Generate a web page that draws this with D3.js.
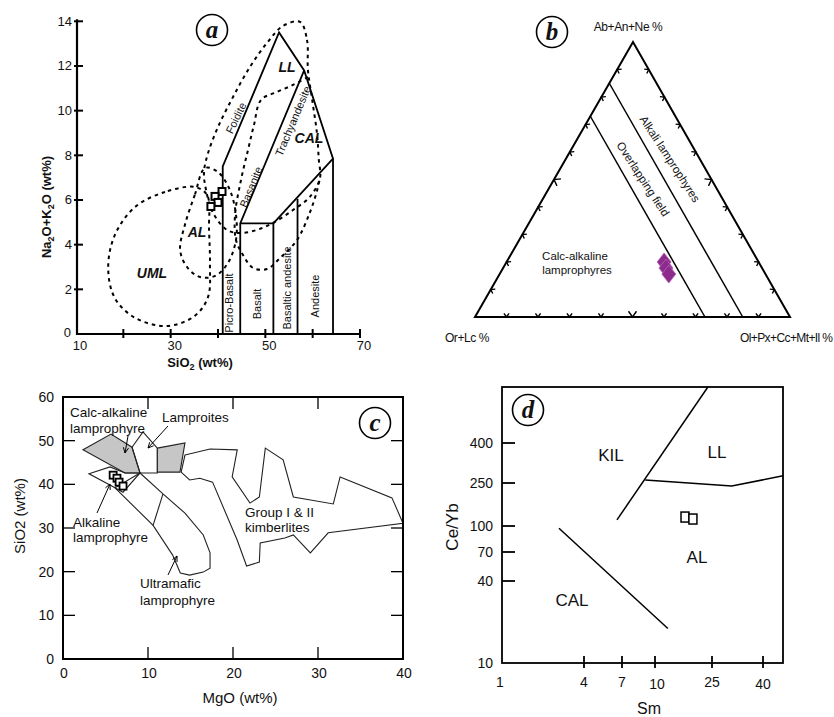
<!DOCTYPE html>
<html><head><meta charset="utf-8">
<script src="https://cdn.jsdelivr.net/npm/d3@7"></script>
<style>
body{margin:0;background:#fff}
svg{display:block}
text{font-family:"Liberation Sans",Arial,sans-serif;fill:#111}
</style></head>
<body><svg id="c" width="834" height="717"></svg>
<script>
// ---------------- DATA ----------------
// Panel a (TAS): SiO2 vs Na2O+K2O
const aXTicks = [10,20,30,40,50,60,70];
const aXLabels = [10,30,50,70];
const aYTicks = [0,2,4,6,8,10,12,14];
const aSolid = [
  [[41,0],[41,7.5],[52.9,13.5],[58.2,11.8],[64.3,7.85],[64.3,0]],
  [[44.7,0],[44.7,4.95],[58.2,11.8]],
  [[44.7,4.95],[51.7,4.95],[51.7,0]],
  [[51.7,4.95],[64.3,7.85]],
  [[56.8,6.05],[56.8,0]]
];
// closed dashed fields
const aUML = [[35.1,6.58],[28.8,6.36],[22.5,5.69],[18.2,4.43],[16.8,2.96],[18.2,1.61],[22.5,0.72],[29.2,0.36],[35.1,0.81],[37.9,1.66],[38.3,3.09],[38.1,4.66],[37.7,6.22]];
const aAL = [[37.26,7.43],[35.1,6.23],[33.0,4.88],[32.0,3.76],[33.45,3.0],[36.2,2.55],[39.4,2.6],[42.1,3.18],[43.8,4.21],[43.8,5.33],[42.5,6.45],[40.0,7.25]];
const aLL = [[57.33,13.97],[58.8,13.17],[59.0,11.82],[59.9,10.48],[60.9,9.0],[61.3,7.79],[61.55,6.99],[59.4,6.14],[55.85,5.55],[51.6,4.97],[48.2,4.66],[44.65,4.52],[41.9,4.66],[38.95,5.42],[37.47,6.45],[37.04,7.25],[37.9,8.1],[40.0,9.27],[43.17,10.61],[46.76,11.96],[50.36,13.03],[53.7,13.79]];
// open dashed field (joins the LL boundary at both ends)
const aCAL = [[59.0,11.5],[55.85,11.15],[52.47,10.84],[49.09,10.48],[47.6,9.36],[46.34,8.24],[44.86,6.9],[43.6,5.33],[43.8,4.21],[45.28,3.54],[47.4,2.96],[50.35,2.91],[53.1,3.4],[56.7,4.21],[59.44,5.46],[60.9,6.4],[61.55,6.99]];
const aSamples = [[40.85,6.38],[39.37,6.16],[40.0,5.89],[38.5,5.71]];

// Panel b (ternary): [A = Ab+An+Ne, B = Or+Lc, C = Ol+Px+Cc+Mt+Il] fractions
const bTickFractions = [0.1,0.2,0.3,0.4,0.5,0.6,0.7,0.8,0.9];
const bLines = [ {B:0.15, name:"Alkali lamprophyres"}, {B:0.27, name:"Overlapping field"} ];
const bSamples = [[0.20,0.30,0.50],[0.178,0.305,0.517],[0.156,0.307,0.537]];

// Panel c: MgO vs SiO2
const cTicks = [0,10,20,30,40];
const cYTicks = [0,10,20,30,40,50,60];
const cCalcAlk = [[2.35,47.9],[5.65,51.5],[8.12,48.5],[9.06,42.6],[7.29,42.6]];
const cLamproiteWhite = [[8.12,48.5],[9.41,52.0],[11.1,48.3],[11.1,42.6],[9.06,42.6]];
const cLamproiteGrey = [[11.1,48.3],[14.35,49.5],[13.76,42.8],[11.1,42.8]];
const cKimberlite = [[14.35,46.7],[17.3,48.1],[20.5,47.9],[19.9,41.7],[22.0,35.7],[23.1,37.1],[23.8,48.3],[25.9,45.6],[27.1,37.1],[31.8,35.5],[32.6,41.7],[38.7,36.9],[40,31.1],[31.2,28.9],[29.1,24.3],[27.1,28.4],[26.1,27.7],[23.2,26.6],[23.1,22.2],[21.6,21.3],[20.5,27.2],[17.6,40.5],[16.1,41.4],[14.9,41.0],[13.9,42.8]];
const cAlkaline = [[3.06,42.4],[5.53,44.0],[7.29,42.6],[9.06,42.6],[7.06,38.2],[6.12,39.2]];
const cUltramafic = [[9.06,42.6],[11.76,37.8],[14.35,33.4],[16.5,28.4],[17.3,24.3],[17.3,20.8],[16.5,19.9],[14.9,19.2],[13.8,19.7],[12.9,23.8],[10.6,30.6],[6.12,39.2]];
const cUltraBranch = [[11.76,37.8],[10.6,30.6]];
const cSamples = [[5.9,42.1],[6.35,41.4],[6.6,40.5],[7.06,39.6]];

// Panel d: Sm vs Ce/Yb (log)
const dXTicks = [1,4,7,10,25,40];
const dYTicks = [10,40,70,100,250,400];
const dKIL = [[6.5,114],[23.4,1000]];
const dLL = [[9,259],[30,234],[55,272]];
const dCAL = [[2.62,97],[12.3,17.9]];
const dSamples = [[16.2,121],[18.4,116]];

// ---------------- DRAW ----------------
const svg = d3.select("#c");
const line = d3.line();

function circLabel(cx, cy, ch){
  svg.append("circle").attr("cx",cx).attr("cy",cy).attr("r",15.5)
    .attr("fill","#fff").attr("stroke","#000").attr("stroke-width",1.6);
  svg.append("text").attr("x",cx).attr("y",cy+8).attr("text-anchor","middle")
    .style("font-family","'Liberation Serif','DejaVu Serif',serif")
    .style("font-style","italic").style("font-weight","bold").style("font-size","25px").text(ch);
}

// ===== Panel a =====
const aX = d3.scaleLinear().domain([10,70]).range([76,360]);
const aY = d3.scaleLinear().domain([0,14]).range([334,21.3]);
const ga = svg.append("g");
ga.append("line").attr("x1",77).attr("x2",77).attr("y1",aY(14)-2).attr("y2",aY(0)+1).attr("stroke","#000").attr("stroke-width",2.2);
ga.append("line").attr("x1",76).attr("x2",aX(70)+1).attr("y1",aY(0)).attr("y2",aY(0)).attr("stroke","#000").attr("stroke-width",2.2);
aYTicks.forEach(v=>{
  if(v>0) ga.append("line").attr("x1",74).attr("x2",83).attr("y1",aY(v)).attr("y2",aY(v)).attr("stroke","#000").attr("stroke-width",2);
  ga.append("text").attr("x",v===0?71:72).attr("y",aY(v)+(v===0?3:4.5)).attr("text-anchor","end").style("font-size","13px").text(v);
});
aXTicks.forEach(v=>{
  if(v>10) ga.append("line").attr("x1",aX(v)).attr("x2",aX(v)).attr("y1",aY(0)-5).attr("y2",aY(0)+4).attr("stroke","#000").attr("stroke-width",2);
});
aXLabels.forEach(v=>{
  ga.append("text").attr("x",aX(v)+4).attr("y",aY(0)+16).attr("text-anchor","middle").style("font-size","13px").text(v);
});
// dashed fields
const dashAttrs = sel => sel.attr("fill","none").attr("stroke","#000").attr("stroke-width",2).attr("stroke-dasharray","3.5,4");
[aUML,aAL,aLL].forEach(pts=>{
  dashAttrs(ga.append("path").attr("d",d3.line().curve(d3.curveCatmullRomClosed.alpha(0.5)).x(d=>aX(d[0])).y(d=>aY(d[1]))(pts)));
});
dashAttrs(ga.append("path").attr("d",d3.line().curve(d3.curveCatmullRom.alpha(0.5)).x(d=>aX(d[0])).y(d=>aY(d[1]))(aCAL)));
aSolid.forEach(pts=>{
  ga.append("path").attr("d",line(pts.map(d=>[aX(d[0]),aY(d[1])]))).attr("fill","none").attr("stroke","#000").attr("stroke-width",1.8).attr("stroke-linejoin","miter");
});
aSamples.forEach(d=>{
  ga.append("rect").attr("x",aX(d[0])-3.5).attr("y",aY(d[1])-3.5).attr("width",7).attr("height",7).attr("fill","#fff").attr("stroke","#000").attr("stroke-width",2);
});
function bi(g,x,y,t,size){g.append("text").attr("x",x).attr("y",y).attr("text-anchor","middle").style("font-weight","bold").style("font-style","italic").style("font-size",(size||14)+"px").text(t);}
bi(ga,287,72,"LL"); bi(ga,309,143,"CAL"); bi(ga,197,237,"AL"); bi(ga,152,278,"UML");
function rot(g,x,y,ang,t,size){g.append("text").attr("transform",`translate(${x},${y}) rotate(${ang})`).attr("text-anchor","middle").attr("dy","0.35em").style("font-size",(size||11)+"px").text(t);}
rot(ga,236,118,-64,"Foidite");
rot(ga,251,187,-68,"Basanite");
rot(ga,293,121,-67,"Trachyandesite");
rot(ga,229,303,-90,"Picro-Basalt");
rot(ga,257,304,-90,"Basalt");
rot(ga,287,288,-90,"Basaltic andesite");
rot(ga,315,296,-90,"Andesite");
// axis titles
const tA = ga.append("text").attr("x",200).attr("y",367).attr("text-anchor","middle").style("font-weight","bold").style("font-size","13px");
tA.append("tspan").text("SiO");
tA.append("tspan").attr("dy",3).style("font-size","9px").text("2");
tA.append("tspan").attr("dy",-3).text(" (wt%)");
const tAy = ga.append("text").attr("transform","translate(51,207) rotate(-90)").attr("text-anchor","middle").style("font-weight","bold").style("font-size","13px");
tAy.append("tspan").text("Na");
tAy.append("tspan").attr("dy",3).style("font-size","9px").text("2");
tAy.append("tspan").attr("dy",-3).text("O+K");
tAy.append("tspan").attr("dy",3).style("font-size","9px").text("2");
tAy.append("tspan").attr("dy",-3).text("O (wt%)");
circLabel(212,30,"a");

// ===== Panel b =====
const vA=[633,42], vB=[475,317], vC=[790,317];
function tern(a,b,c){return [a*vA[0]+b*vB[0]+c*vC[0], a*vA[1]+b*vB[1]+c*vC[1]];}
const gb = svg.append("g");
gb.append("path").attr("d",line([vA,vB,vC])+"Z").attr("fill","none").attr("stroke","#000").attr("stroke-width",2).attr("stroke-linejoin","miter");
function chevron(P,dir,inward,len){
  const ang=35*Math.PI/180;
  const ca=Math.cos(ang), sa=Math.sin(ang);
  const p1=[P[0]+len*(inward[0]*ca+dir[0]*sa), P[1]+len*(inward[1]*ca+dir[1]*sa)];
  const p2=[P[0]+len*(inward[0]*ca-dir[0]*sa), P[1]+len*(inward[1]*ca-dir[1]*sa)];
  gb.append("path").attr("d",line([p1,P,p2])).attr("fill","none").attr("stroke","#000").attr("stroke-width",1.4);
}
const cen=[(vA[0]+vB[0]+vC[0])/3,(vA[1]+vB[1]+vC[1])/3];
[[vB,vA],[vA,vC],[vC,vB]].forEach(([P0,P1])=>{
  const L=Math.hypot(P1[0]-P0[0],P1[1]-P0[1]);
  const dir=[(P1[0]-P0[0])/L,(P1[1]-P0[1])/L];
  let n=[-dir[1],dir[0]];
  const mid=[(P0[0]+P1[0])/2,(P0[1]+P1[1])/2];
  if((cen[0]-mid[0])*n[0]+(cen[1]-mid[1])*n[1]<0) n=[-n[0],-n[1]];
  bTickFractions.forEach(f=>{
    const P=[P0[0]+(P1[0]-P0[0])*f, P0[1]+(P1[1]-P0[1])*f];
    chevron(P,dir,n,f===0.5?7:4.5);
  });
});
bLines.forEach(l=>{
  const p1=tern(1-l.B,l.B,0), p2=tern(0,l.B,1-l.B);
  gb.append("line").attr("x1",p1[0]).attr("y1",p1[1]).attr("x2",p2[0]).attr("y2",p2[1]).attr("stroke","#000").attr("stroke-width",1.5);
});
rot(gb,670,159,57,"Alkali lamprophyres",11.5);
rot(gb,643,179,57,"Overlapping field",11.5);
gb.append("text").attr("x",575).attr("y",260).attr("text-anchor","middle").style("font-size","11.5px").text("Calc-alkaline");
gb.append("text").attr("x",577).attr("y",274).attr("text-anchor","middle").style("font-size","11.5px").text("lamprophyres");
bSamples.forEach(s=>{
  const p=tern(s[0],s[1],s[2]);
  gb.append("path").attr("d",line([[p[0],p[1]-9],[p[0]+7,p[1]],[p[0],p[1]+9],[p[0]-7,p[1]]])+"Z")
    .attr("fill","#8c2b8c").attr("stroke","#b665b6").attr("stroke-width",0.8);
});
const narrow = "'Liberation Sans Narrow','Liberation Sans',Arial,sans-serif";
gb.append("text").attr("x",628).attr("y",31).attr("text-anchor","middle").style("font-family",narrow).style("font-size","12px").style("letter-spacing","-0.4px").text("Ab+An+Ne %");
gb.append("text").attr("x",467).attr("y",342).attr("text-anchor","middle").style("font-family",narrow).style("font-size","12px").style("letter-spacing","-0.4px").text("Or+Lc %");
gb.append("text").attr("x",740).attr("y",342).attr("text-anchor","start").style("font-family",narrow).style("font-size","12px").style("letter-spacing","-0.6px").text("Ol+Px+Cc+Mt+Il %");
circLabel(552,32,"b");

// ===== Panel c =====
const cX = d3.scaleLinear().domain([0,40]).range([63,403]);
const cY = d3.scaleLinear().domain([0,60]).range([659,397]);
const gc = svg.append("g");
function cPath(pts,fill){
  gc.append("path").attr("d",line(pts.map(d=>[cX(d[0]),cY(d[1])]))+(fill!==null?"Z":""))
    .attr("fill",fill||"none").attr("stroke","#222").attr("stroke-width",1.1).attr("stroke-linejoin","miter");
}
cPath(cCalcAlk,"#c6c6c6");
cPath(cLamproiteWhite,"none");
cPath(cLamproiteGrey,"#c6c6c6");
cPath(cKimberlite,"none");
cPath(cAlkaline,"none");
cPath(cUltramafic,"none");
cPath(cUltraBranch,null);
gc.append("rect").attr("x",cX(0)).attr("y",cY(60)).attr("width",cX(40)-cX(0)).attr("height",cY(0)-cY(60)).attr("fill","none").attr("stroke","#000").attr("stroke-width",2);
cTicks.forEach(v=>{
  if(v>0&&v<40){
    gc.append("line").attr("x1",cX(v)).attr("x2",cX(v)).attr("y1",cY(0)).attr("y2",cY(0)-12).attr("stroke","#000").attr("stroke-width",1.3);
    gc.append("line").attr("x1",cX(v)).attr("x2",cX(v)).attr("y1",cY(60)).attr("y2",cY(60)+12).attr("stroke","#000").attr("stroke-width",1.3);
  }
  gc.append("text").attr("x",cX(v)+1).attr("y",cY(0)+19).attr("text-anchor","middle").style("font-size","14px").text(v);
});
cYTicks.forEach(v=>{
  if(v>0&&v<60){
    gc.append("line").attr("x1",cX(0)).attr("x2",cX(0)+12).attr("y1",cY(v)).attr("y2",cY(v)).attr("stroke","#000").attr("stroke-width",1.3);
    gc.append("line").attr("x1",cX(40)).attr("x2",cX(40)-12).attr("y1",cY(v)).attr("y2",cY(v)).attr("stroke","#000").attr("stroke-width",1.3);
  }
  gc.append("text").attr("x",54).attr("y",cY(v)+5).attr("text-anchor","end").style("font-size","14px").text(v);
});
cSamples.forEach(d=>{
  gc.append("rect").attr("x",cX(d[0])-3.5).attr("y",cY(d[1])-3.5).attr("width",7).attr("height",7).attr("fill","#fff").attr("stroke","#000").attr("stroke-width",1.8);
});
function ctext(x,y,t,anchor){gc.append("text").attr("x",x).attr("y",y).attr("text-anchor",anchor||"start").style("font-size","13.5px").text(t);}
ctext(70,417,"Calc-alkaline"); ctext(70,433,"lamprophyre");
ctext(162,422,"Lamproites");
ctext(245,517,"Group I & II"); ctext(245,532,"kimberlites");
ctext(73,527,"Alkaline"); ctext(73,542,"lamprophyre");
ctext(140,588,"Ultramafic"); ctext(140,605,"lamprophyre");
function arrow(x1,y1,x2,y2){
  gc.append("line").attr("x1",x1).attr("y1",y1).attr("x2",x2).attr("y2",y2).attr("stroke","#000").attr("stroke-width",1);
  const a=Math.atan2(y2-y1,x2-x1), L=6, s=0.45;
  gc.append("path").attr("d",line([[x2-L*Math.cos(a-s),y2-L*Math.sin(a-s)],[x2,y2],[x2-L*Math.cos(a+s),y2-L*Math.sin(a+s)]])).attr("fill","none").attr("stroke","#000").attr("stroke-width",1);
}
arrow(128,436,125,453);
arrow(168,426,148,448);
arrow(97,513,110,484);
arrow(168,575,177,556);
gc.append("text").attr("x",240).attr("y",703).attr("text-anchor","middle").style("font-size","15px").text("MgO (wt%)");
gc.append("text").attr("transform","translate(25,516) rotate(-90)").attr("text-anchor","middle").style("font-size","15px").text("SiO2 (wt%)");
circLabel(375,423,"c");

// ===== Panel d =====
const dX = d3.scaleLog().domain([1,4,7,10,25,40,55]).range([502,584,622,655,712,763,783]);
const dY = d3.scaleLog().domain([10,40,70,100,250,400,1000]).range([663,581,552,526,483,443,387]);
const gd = svg.append("g");
gd.append("rect").attr("x",dX(1)).attr("y",dY(1000)).attr("width",dX(55)-dX(1)).attr("height",dY(10)-dY(1000)).attr("fill","none").attr("stroke","#000").attr("stroke-width",1.8);
dXTicks.forEach(v=>{
  if(v>1) gd.append("line").attr("x1",dX(v)).attr("x2",dX(v)).attr("y1",dY(10)-7).attr("y2",dY(10)+5).attr("stroke","#000").attr("stroke-width",1.8);
  gd.append("text").attr("x",dX(v)+(v===1?-2:(v===10?2:0))).attr("y",dY(10)+(v===10||v===40?26:24)).attr("text-anchor","middle").style("font-size","14px").text(v);
});
dYTicks.forEach(v=>{
  if(v>10) gd.append("line").attr("x1",dX(1)).attr("x2",dX(1)+13).attr("y1",dY(v)).attr("y2",dY(v)).attr("stroke","#000").attr("stroke-width",1.8);
  gd.append("text").attr("x",493).attr("y",dY(v)+5).attr("text-anchor","end").style("font-size","14px").text(v);
});
[dKIL,dLL,dCAL].forEach(pts=>{
  gd.append("path").attr("d",line(pts.map(d=>[dX(d[0]),dY(d[1])]))).attr("fill","none").attr("stroke","#000").attr("stroke-width",1.5);
});
dSamples.forEach(d=>{
  gd.append("rect").attr("x",dX(d[0])-4).attr("y",dY(d[1])-5).attr("width",8).attr("height",10).attr("fill","#fff").attr("stroke","#000").attr("stroke-width",1.5);
});
function dtext(x,y,t){gd.append("text").attr("x",x).attr("y",y).attr("text-anchor","middle").style("font-size","17px").text(t);}
dtext(611,461,"KIL"); dtext(717,458,"LL"); dtext(697,563,"AL"); dtext(572,606,"CAL");
gd.append("text").attr("x",649).attr("y",714).attr("text-anchor","middle").style("font-size","16px").text("Sm");
gd.append("text").attr("transform","translate(458,527) rotate(-90)").attr("text-anchor","middle").style("font-size","17px").text("Ce/Yb");
circLabel(528,410,"d");
</script></body></html>
